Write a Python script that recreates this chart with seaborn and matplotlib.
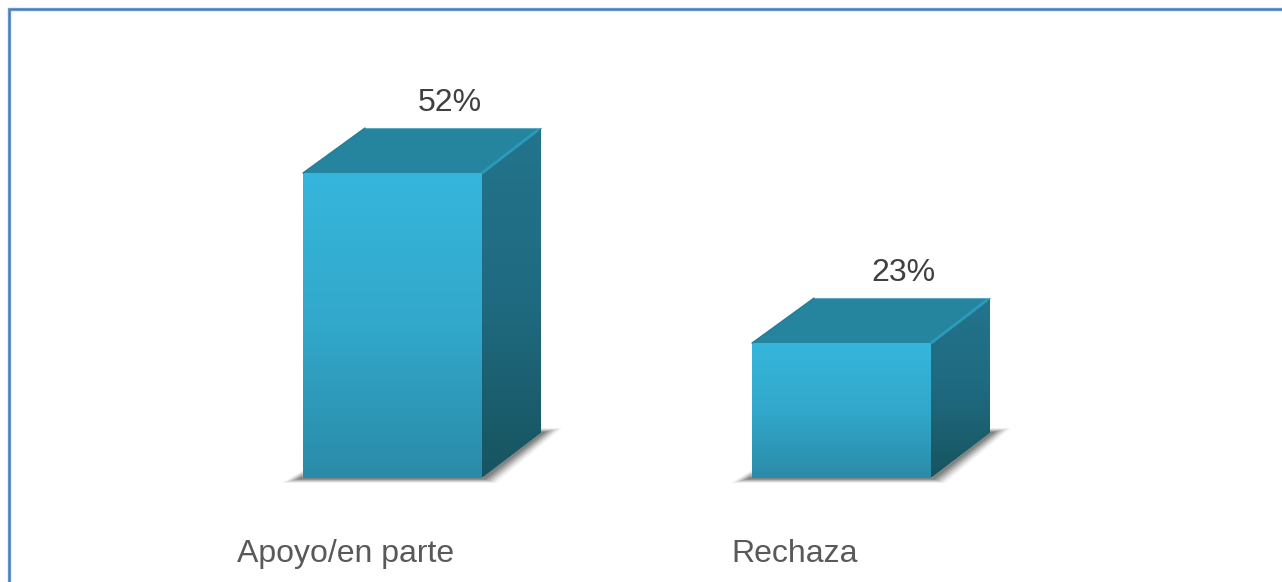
import numpy as np
import pandas as pd
import seaborn as sns
import matplotlib.pyplot as plt
from matplotlib.colors import LinearSegmentedColormap
from matplotlib.lines import Line2D
from matplotlib.patches import Polygon
from matplotlib.transforms import ScaledTranslation

categories = ["Apoyo/en parte", "Rechaza"]
values = [52, 23]

W, H, DPI = 1282, 582, 100
# axes box in pixels, one category = 449 px, 1% = 5.865 px
AX_LEFT, AX_RIGHT, AX_BOTTOM = 168, 1066, 478
PX_X = 449.0
PX_Y = 5.865
YMAX = 60
DEPTH_X, DEPTH_Y = 59, 45
LABEL_SHIFT = [57.5, 61.5]

front_cmap = LinearSegmentedColormap.from_list("front", ["#36B6DC", "#32A8CB", "#2A8BA8"])
side_cmap = LinearSegmentedColormap.from_list("side", ["#23748D", "#1F6A80", "#17545F"])
TOP_COLOR = "#25859F"
BEVEL_COLOR = "#2A9BBD"


def gradient(ax, pts, cmap, zorder):
    # vertical gradient clipped to a polygon
    pts = np.array(pts)
    x0, x1 = pts[:, 0].min(), pts[:, 0].max()
    y0, y1 = pts[:, 1].min(), pts[:, 1].max()
    grad = np.linspace(0, 1, 256).reshape(-1, 1)
    im = ax.imshow(grad, cmap=cmap, extent=(x0, x1, y0, y1), aspect="auto",
                   origin="upper", zorder=zorder, interpolation="bilinear")
    clip = Polygon(pts, closed=True, transform=ax.transData)
    im.set_clip_path(clip)
    im.set_clip_box(ax.figure.bbox)


def draw_3d(ax, bar):
    x0 = bar.get_x()
    x1 = x0 + bar.get_width()
    h = bar.get_height()
    dx = DEPTH_X / PX_X
    dy = DEPTH_Y / PX_Y
    # floor shadow, stacked soft layers
    for grow, alpha in zip([1.0, 0.85, 0.7, 0.55, 0.4, 0.25],
                           [0.06, 0.10, 0.14, 0.18, 0.22, 0.26]):
        gx = grow * 21 / PX_X
        gy = grow * 5 / PX_Y
        ax.add_patch(Polygon([(x0 - gx, -gy), (x0, 8 * grow / PX_Y), (x1, 0),
                              (x1 + dx, dy), (x1 + dx, dy + gy),
                              (x1 + dx + gx, dy + gy),
                              (x1 + 14 * grow / PX_X, -gy)],
                             closed=True, fc="#444444", ec="none", alpha=alpha,
                             zorder=1, clip_on=False))
    gradient(ax, [(x0, 0), (x1, 0), (x1, h), (x0, h)], front_cmap, 4)
    gradient(ax, [(x1, 0), (x1 + dx, dy), (x1 + dx, h + dy), (x1, h)], side_cmap, 3)
    ax.add_patch(Polygon([(x0, h), (x1, h), (x1 + dx, h + dy), (x0 + dx + 3 / PX_X, h + dy)],
                         closed=True, fc=TOP_COLOR, ec="none", zorder=3, clip_on=False))
    # lighter bevels along the top edges
    ax.plot([x1, x1 + dx - 3 / PX_X], [h, h + dy - 2 / PX_Y], color=BEVEL_COLOR, lw=2.0,
            zorder=4, clip_on=False, solid_capstyle="butt")
    ax.plot([x0 + dx + 3 / PX_X, x1 + dx], [h + dy, h + dy], color="#5FA9C0", lw=0.8,
            zorder=4, clip_on=False)
    ax.plot([x0, x0 + dx + 3 / PX_X], [h, h + dy], color="#237C96", lw=1.0, zorder=4,
            clip_on=False)


sns.set_style("white")
plt.rcParams["font.family"] = ["Liberation Sans", "DejaVu Sans"]

df = pd.DataFrame({"grupo": categories, "valor": values})

fig = plt.figure(figsize=(W / DPI, H / DPI), dpi=DPI)
ax = fig.add_axes([AX_LEFT / W, (H - AX_BOTTOM) / H,
                   (AX_RIGHT - AX_LEFT) / W, YMAX * PX_Y / H])
sns.barplot(data=df, x="grupo", y="valor", color="#32A8CB", width=179 / PX_X, ax=ax,
            saturation=1, zorder=2)

for bar, val, off in zip(ax.patches, values, LABEL_SHIFT):
    draw_3d(ax, bar)
    ax.annotate("{0}%".format(val), (bar.get_x() + bar.get_width() / 2, val),
                xytext=(off * 72 / DPI, 62 * 72 / DPI), textcoords="offset points",
                ha="center", va="baseline", fontsize=23, color="#404040",
                annotation_clip=False, zorder=6)

ax.set_xlim(-0.5, 1.5)
ax.set_ylim(0, YMAX)
ax.set_xlabel("")
ax.set_ylabel("")
ax.set_yticks([])
ax.tick_params(axis="x", length=0, pad=44, labelsize=23, labelcolor="#595959")
shift = ScaledTranslation(-47 / DPI, 0, fig.dpi_scale_trans)
for lab in ax.get_xticklabels():
    lab.set_transform(lab.get_transform() + shift)
sns.despine(ax=ax, left=True, bottom=True)

# outer blue frame, open at the right and bottom edges of the crop
frame_x = 9.0 / W
frame_y = 1 - 8.5 / H
for col, lw in [("#6F9BD0", 2.4), ("#4A7DBE", 1.0)]:
    fig.add_artist(Line2D([frame_x, frame_x, 1], [0, frame_y, frame_y],
                          color=col, lw=lw, solid_joinstyle="miter"))

fig.savefig("out.png", dpi=DPI)
plt.close(fig)
